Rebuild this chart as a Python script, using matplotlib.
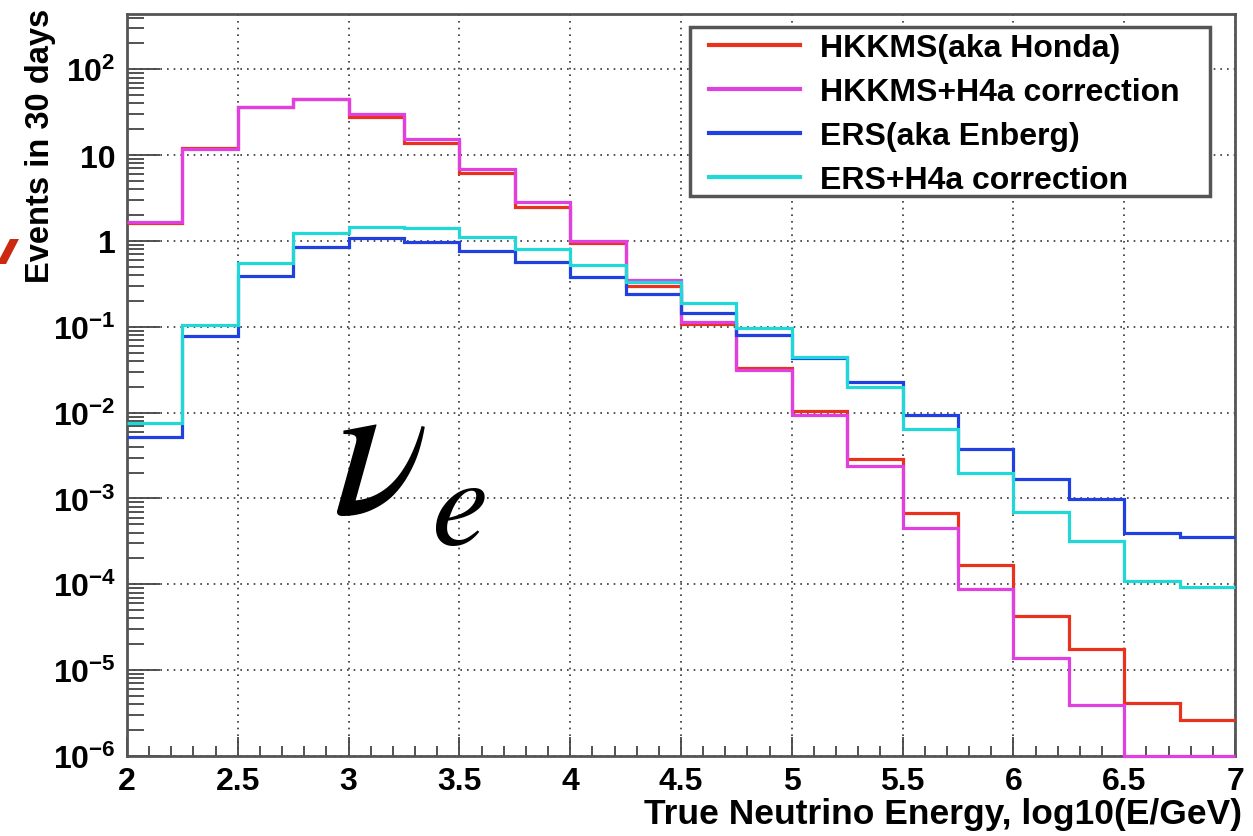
import numpy as np
import matplotlib
matplotlib.use('Agg')
import matplotlib.pyplot as plt
from matplotlib.ticker import (LogLocator, FuncFormatter, MultipleLocator,
                               NullFormatter, FixedLocator)
from matplotlib.patches import Polygon, Rectangle

# ---------------- data ----------------
bin_edges = [2.0, 2.25, 2.5, 2.75, 3.0, 3.25, 3.5, 3.75, 4.0, 4.25, 4.5,
             4.75, 5.0, 5.25, 5.5, 5.75, 6.0, 6.25, 6.5, 6.75, 7.0]

hkkms = [1.6, 12.2, 36, 45, 28, 13.8, 6.2, 2.5, 0.95, 0.30, 0.107, 0.033,
         0.0104, 0.0029, 6.8e-4, 1.7e-4, 4.3e-5, 1.75e-5, 4.1e-6, 2.6e-6]
hkkms_h4a = [1.67, 11.8, 36, 45, 30, 15.4, 6.9, 2.85, 1.0, 0.35, 0.113, 0.031,
             0.0095, 0.0024, 4.5e-4, 8.8e-5, 1.4e-5, 3.9e-6, 1.0e-6, 1.0e-6]
ers = [5.2e-3, 0.079, 0.39, 0.86, 1.07, 0.96, 0.76, 0.57, 0.38, 0.24, 0.146,
       0.081, 0.0435, 0.0226, 9.3e-3, 3.8e-3, 1.7e-3, 9.9e-4, 4.0e-4, 3.6e-4]
ers_h4a = [7.6e-3, 0.106, 0.56, 1.25, 1.46, 1.40, 1.12, 0.81, 0.52, 0.33, 0.19,
           0.098, 0.045, 0.020, 6.5e-3, 2.0e-3, 6.9e-4, 3.2e-4, 1.08e-4, 9.3e-5]

series_labels = ["HKKMS(aka Honda)", "HKKMS+H4a correction",
                 "ERS(aka Enberg)", "ERS+H4a correction"]
series_colors = ['#e8321e', '#e040e0', '#2040e0', '#20d8d8']

x_tick_labels = ['2', '2.5', '3', '3.5', '4', '4.5', '5', '5.5', '6', '6.5', '7']
y_tick_values = [1e-6, 1e-5, 1e-4, 1e-3, 1e-2, 1e-1, 1, 10, 100]
x_label = "True Neutrino Energy, log10(E/GeV)"
y_label = "Events in 30 days"

# ---------------- style ----------------
plt.rcParams['font.family'] = ['Liberation Sans', 'DejaVu Sans']
plt.rcParams['font.weight'] = 'bold'
plt.rcParams['mathtext.fontset'] = 'custom'
plt.rcParams['mathtext.rm'] = 'Liberation Sans:bold'
plt.rcParams['mathtext.it'] = 'Liberation Sans:bold'
plt.rcParams['mathtext.bf'] = 'Liberation Sans:bold'
plt.rcParams['mathtext.default'] = 'rm'

W, H = 1253, 837
fig = plt.figure(figsize=(W / 100, H / 100), dpi=100)
ax = fig.add_axes([127 / W, 80 / H, 1108 / W, 742 / H])

all_series = [hkkms, hkkms_h4a, ers, ers_h4a]
for vals, col, lab in zip(all_series, series_colors, series_labels):
    ax.stairs(vals, bin_edges, color=col, lw=2.3, baseline=None, label=lab,
              clip_on=False, zorder=3)

ax.set_yscale('log')
ax.set_xlim(2, 7)
ax.set_ylim(1e-6, 440)

ax.xaxis.set_major_locator(MultipleLocator(0.5))
ax.xaxis.set_minor_locator(MultipleLocator(0.1))


def xfmt(v, pos):
    i = int(round((v - 2) / 0.5))
    return x_tick_labels[i] if 0 <= i < len(x_tick_labels) else ''


ax.xaxis.set_major_formatter(FuncFormatter(xfmt))

ax.yaxis.set_major_locator(FixedLocator(y_tick_values))
ax.yaxis.set_minor_locator(LogLocator(base=10, subs=np.arange(2, 10), numticks=200))
ax.yaxis.set_minor_formatter(NullFormatter())


def yfmt(v, pos):
    e = int(round(np.log10(v)))
    if e == 0:
        return '1'
    if e == 1:
        return '10'
    return r'$10^{%d}$' % e


ax.yaxis.set_major_formatter(FuncFormatter(yfmt))

ax.tick_params(axis='both', which='both', direction='in', top=False, right=False,
               colors='#444', labelcolor='black', labelsize=23)
ax.tick_params(axis='y', which='major', length=24, width=1.3, pad=8)
ax.tick_params(axis='y', which='minor', length=12, width=1.3)
ax.tick_params(axis='x', which='major', length=14, width=1.3, pad=7)
ax.tick_params(axis='x', which='minor', length=7, width=1.3)

for s in ax.spines.values():
    s.set_color('#555')
    s.set_linewidth(2)

ax.grid(True, which='major', ls=(0, (1, 3)), color='#333', lw=1.2, zorder=0)


# legend frame drawn separately (fixed size as in the reference)
def ax_frac(px, py):
    return (px - 127) / 1108, (757 - py) / 742


x0, y0 = ax_frac(690, 197)
x1, y1 = ax_frac(1210, 28)
ax.add_patch(Rectangle((x0, y0), x1 - x0, y1 - y0, transform=ax.transAxes,
                       facecolor='white', edgecolor='#555', lw=2.5, zorder=5,
                       clip_on=False))
lx, ly = ax_frac(709, 34)
leg = ax.legend(loc='upper left', bbox_to_anchor=(lx, ly), borderaxespad=0,
                frameon=False, fontsize=23, handlelength=2.85,
                handletextpad=0.63, labelspacing=0.44, borderpad=0)
leg.set_zorder(6)
for h in leg.get_lines():
    h.set_linewidth(3)

fig.text(1242 / W, 1 - 815 / H, x_label, ha='right', va='center', fontsize=25.5,
         fontweight='bold')
fig.text(41 / W, 1 - 9 / H, y_label, ha='center', va='top', rotation=90,
         fontsize=23.5, fontweight='bold')

# big nu_e annotation
fig.text(333 / W, 1 - 513 / H, 'ν', fontsize=144, family='STIXGeneral',
         style='italic', fontweight='normal', ha='left', va='baseline')
fig.text(431 / W, 1 - 545 / H, 'e', fontsize=92, family='STIXGeneral',
         style='italic', fontweight='normal', ha='left', va='baseline')

# cropped red stroke at the left edge
pts = [(10, 240), (19, 240), (6, 265), (-3, 265)]
fig.add_artist(Polygon([(x / W, 1 - y / H) for x, y in pts], closed=True,
                       transform=fig.transFigure, color='#cc2a10', lw=0))

fig.savefig('out.png', dpi=100)
